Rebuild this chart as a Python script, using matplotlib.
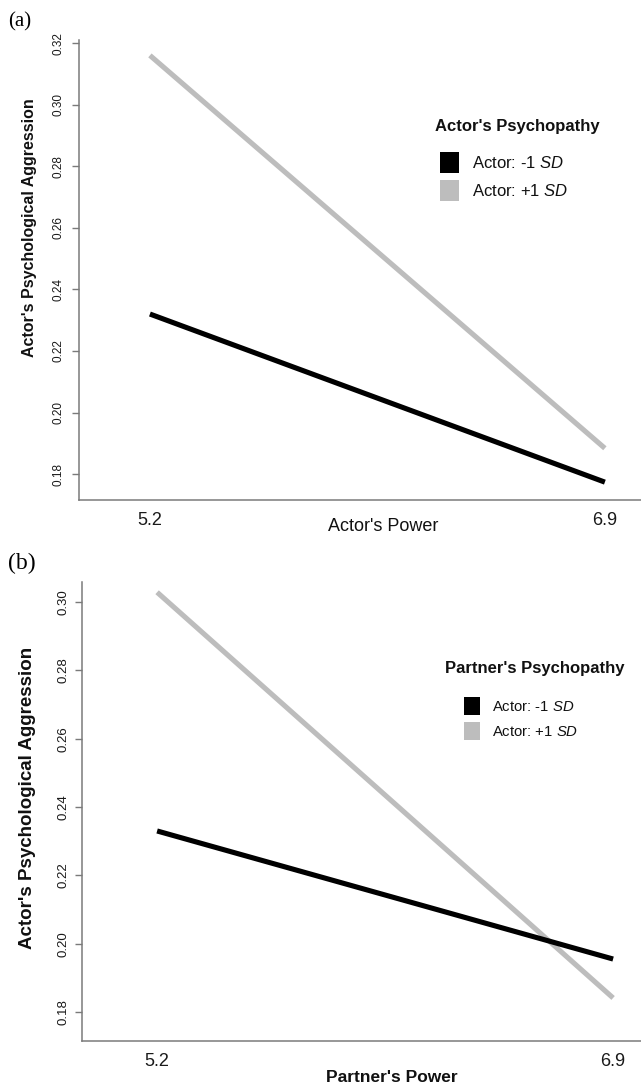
import matplotlib
matplotlib.use("Agg")
import matplotlib.pyplot as plt
from matplotlib.patches import Patch

plt.rcParams['font.family'] = ['Liberation Sans', 'DejaVu Sans']
plt.rcParams['mathtext.fontset'] = 'custom'
plt.rcParams['mathtext.rm'] = 'Liberation Sans'
plt.rcParams['mathtext.it'] = 'Liberation Sans:italic'

# ---- data ----
power_levels = [5.2, 6.9]
a_low = [0.232, 0.1774]    # Actor: -1 SD
a_high = [0.316, 0.1884]   # Actor: +1 SD
b_low = [0.233, 0.1955]
b_high = [0.3029, 0.1841]
yticks = [0.18, 0.20, 0.22, 0.24, 0.26, 0.28, 0.30, 0.32]
series_labels = ["Actor: -1 $\\it{SD}$", "Actor: +1 $\\it{SD}$"]

BLACK = '#000000'
GREY = '#bdbdbd'
AXC = '#7a7a7a'
TXT = '#111111'

W, H = 641, 1088
fig = plt.figure(figsize=(W / 100, H / 100), dpi=100)


def px_axes(left, top, right, bottom):
    return fig.add_axes([left / W, 1 - bottom / H, (right - left) / W, (bottom - top) / H])


def style(ax, xlim, ylim, ytk, ysize, xsize, ypad):
    ax.set_xlim(*xlim)
    ax.set_ylim(*ylim)
    for s in ['top', 'right']:
        ax.spines[s].set_visible(False)
    for s in ['left', 'bottom']:
        ax.spines[s].set_color(AXC)
        ax.spines[s].set_linewidth(1.1)
    ax.set_xticks(power_levels)
    ax.set_xticklabels([str(v) for v in power_levels])
    ax.set_yticks(ytk)
    ax.set_yticklabels([f"{v:.2f}" for v in ytk])
    ax.tick_params(axis='x', length=0, pad=9, labelsize=xsize, labelcolor='#1a1a1a')
    ax.tick_params(axis='y', length=5, width=1, color=AXC, pad=ypad,
                   labelsize=ysize, labelrotation=90, labelcolor='#1a1a1a')
    for lab in ax.get_yticklabels():
        lab.set_va('center')


# ---- panel (a) ----
axa = px_axes(79, 40, 641, 500)
axa.plot(power_levels, a_high, color=GREY, lw=3.7, solid_capstyle='butt')
axa.plot(power_levels, a_low, color=BLACK, lw=3.7, solid_capstyle='butt')
style(axa, (4.935, 7.035), (0.1716, 0.321), yticks, 8.5, 13, 5.2)
axa.set_xlabel("Actor's Power", fontsize=13, color=TXT)
axa.xaxis.set_label_coords((383 - 79) / 562, -(527 - 500) / 460)
axa.xaxis.label.set_va('center')
axa.set_ylabel("Actor's Psychological Aggression", fontsize=11.5, fontweight='bold', color=TXT)
axa.yaxis.set_label_coords(-(79 - 30) / 562, (500 - 228) / 460)
axa.yaxis.label.set_va('center')

fig.text(435 / W, 1 - 127 / H, "Actor's Psychopathy", fontsize=12, fontweight='bold',
         ha='left', va='center', color=TXT)
handles = [Patch(facecolor=BLACK, edgecolor='none'), Patch(facecolor=GREY, edgecolor='none')]
axa.legend(handles, series_labels, loc='upper left', bbox_to_anchor=(440 / W, 1 - 152 / H),
           bbox_transform=fig.transFigure, frameon=False, borderpad=0, borderaxespad=0,
           fontsize=12, handlelength=1.14, handleheight=1.56, handletextpad=0.8,
           labelspacing=0.42, labelcolor=TXT)

fig.text(8 / W, 1 - 22 / H, "(a)", fontsize=15, family='Liberation Serif', ha='left', va='center')

# ---- panel (b) ----
axb = px_axes(82, 582, 641, 1041)
axb.plot(power_levels, b_high, color=GREY, lw=3.7, solid_capstyle='butt')
axb.plot(power_levels, b_low, color=BLACK, lw=3.7, solid_capstyle='butt')
style(axb, (4.920, 7.004), (0.1715, 0.3059), yticks[:-1], 9.5, 13, 4.2)
axb.set_xlabel("Partner's Power", fontsize=12.5, fontweight='bold', color=TXT)
axb.xaxis.set_label_coords((392 - 82) / 559, -(1077 - 1041) / 459)
axb.xaxis.label.set_va('center')
axb.set_ylabel("Actor's Psychological Aggression", fontsize=13.5, fontweight='bold', color=TXT)
axb.yaxis.set_label_coords(-(82 - 28) / 559, (1041 - 798) / 459)
axb.yaxis.label.set_va('center')

fig.text(445 / W, 1 - 668 / H, "Partner's Psychopathy", fontsize=12, fontweight='bold',
         ha='left', va='center', color=TXT)
handles_b = [Patch(facecolor=BLACK, edgecolor='none'), Patch(facecolor=GREY, edgecolor='none')]
axb.legend(handles_b, series_labels, loc='upper left', bbox_to_anchor=(464 / W, 1 - 697 / H),
           bbox_transform=fig.transFigure, frameon=False, borderpad=0, borderaxespad=0,
           fontsize=10.7, handlelength=1.07, handleheight=1.53, handletextpad=0.8,
           labelspacing=0.44, labelcolor=TXT)

fig.text(8 / W, 1 - 563 / H, "(b)", fontsize=17, family='Liberation Serif', ha='left', va='center')

fig.savefig("out.png", dpi=100)
